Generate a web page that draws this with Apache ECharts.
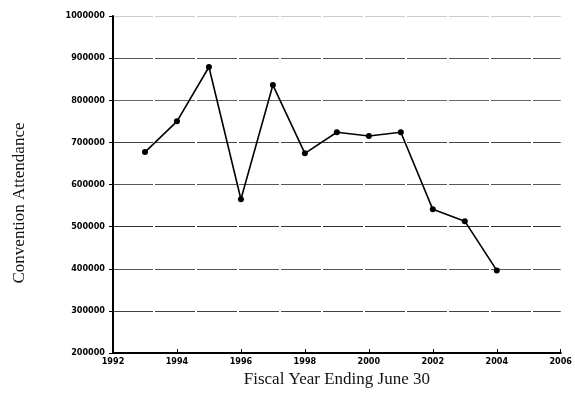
<!DOCTYPE html>
<html><head><meta charset="utf-8">
<script src="https://cdn.jsdelivr.net/npm/echarts@6/dist/echarts.min.js"></script>
<style>html,body{margin:0;padding:0;background:#fff}#c{width:575px;height:408px}</style>
</head><body><div id="c"></div>
<script>
const years = [1993,1994,1995,1996,1997,1998,1999,2000,2001,2002,2003,2004];
const attendance = [677000,750000,879000,565000,836000,674000,724000,715000,724000,541000,513000,396000];
const xTitle = 'Fiscal Year Ending June 30';
const yTitle = 'Convention Attendance';

const chart = echarts.init(document.getElementById('c'), null, {renderer:'canvas'});
chart.setOption({
  animation:false,
  backgroundColor:'#fff',
  grid:{left:113,right:11,top:16,bottom:55},
  xAxis:{
    type:'value', min:1992, max:2006, interval:2,
    name:xTitle, nameLocation:'middle', nameGap:15,
    nameTextStyle:{fontFamily:'Liberation Serif',fontSize:17,color:'#111'},
    axisLine:{lineStyle:{color:'#000',width:2}},
    axisTick:{inside:true,length:4,lineStyle:{color:'#000'}},
    axisLabel:{fontFamily:'DejaVu Sans Condensed',fontWeight:'bold',fontSize:9,color:'#000',margin:4,formatter:v=>String(v)},
    splitLine:{show:false}
  },
  yAxis:{
    type:'value', min:200000, max:1000000, interval:100000,
    axisLine:{show:true,lineStyle:{color:'#000',width:2}},
    axisTick:{show:true,length:4,lineStyle:{color:'#000'}},
    axisLabel:{fontFamily:'DejaVu Sans Condensed',fontWeight:'bold',fontSize:9,color:'#000',margin:8,formatter:v=>String(v)},
    splitLine:{show:true,lineStyle:{type:[40,2],width:1,color:['#000','#444','#555','#333','#555','#444','#666','#555','#ccc']}}
  },
  graphic:[{
    type:'text', x:20, y:203, rotation:Math.PI/2,
    style:{text:yTitle, fontFamily:'Liberation Serif', fontSize:17, fill:'#111', align:'center', verticalAlign:'middle'}
  }],
  series:[{
    type:'line', data:years.map((y,i)=>[y,attendance[i]]),
    lineStyle:{color:'#000',width:1.6},
    itemStyle:{color:'#000'},
    symbol:'circle', symbolSize:6
  }]
});
</script></body></html>
